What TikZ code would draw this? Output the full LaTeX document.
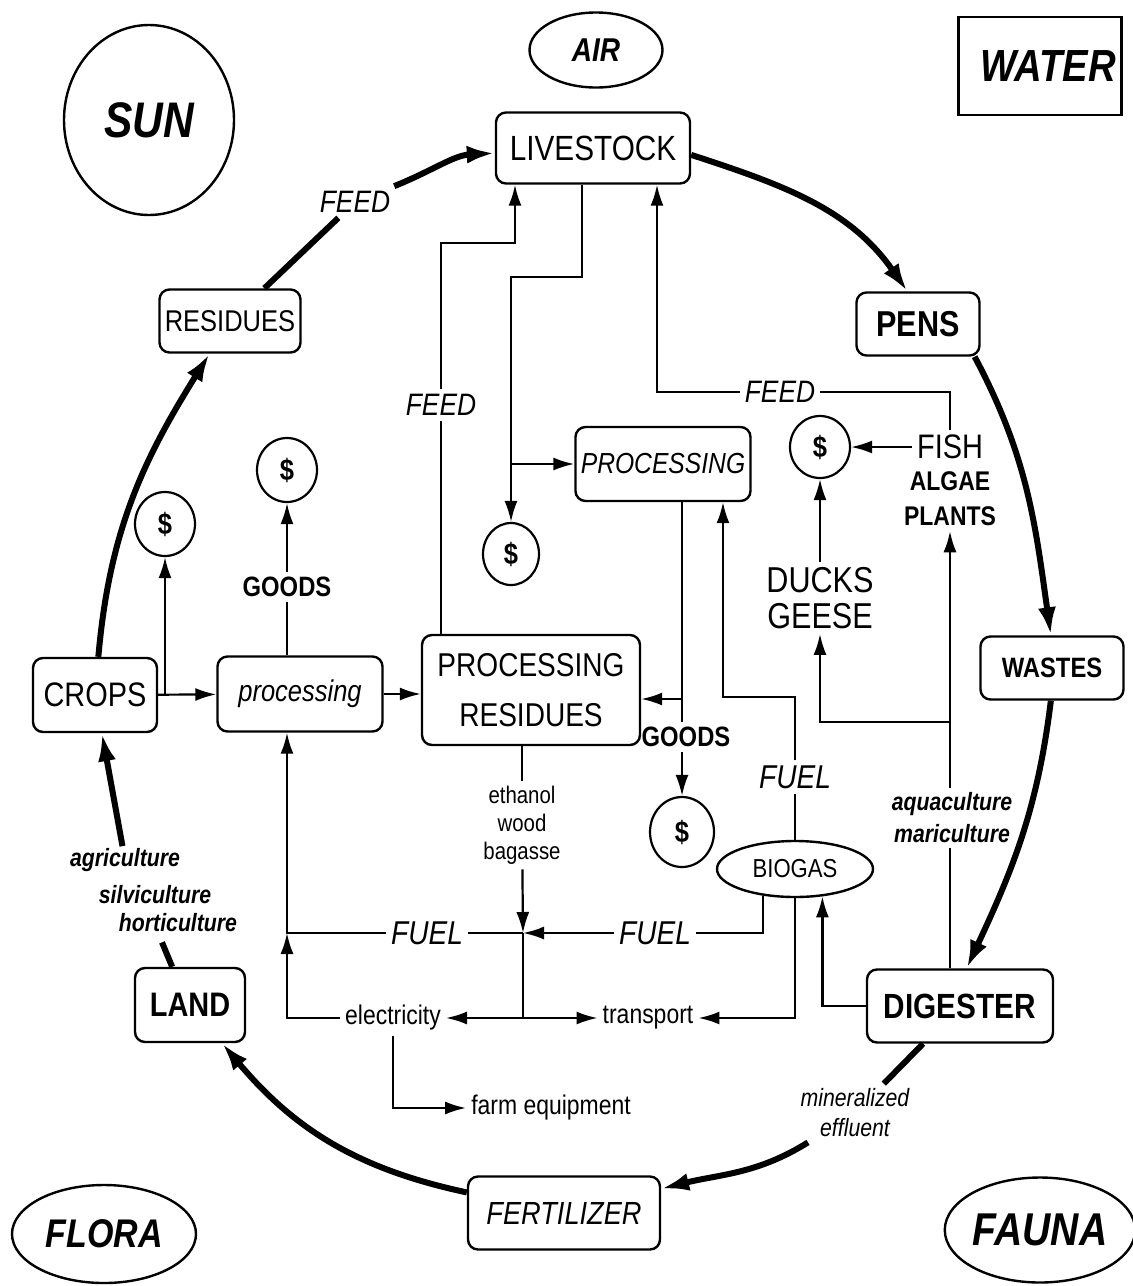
\documentclass[tikz,border=0pt]{standalone}
\usepackage{fontspec}
\setmainfont{Liberation Sans}[FakeStretch=0.85]
\usetikzlibrary{arrows.meta, positioning, shapes.geometric}
\newcommand\fsz[2]{\fontsize{#1}{#2}\selectfont}

\begin{document}
\begin{tikzpicture}[
        x=1pt, y=1pt,
        box/.style={
            draw,
            rounded corners=10pt,
            line width=2.4pt,
            inner sep=0pt,
            align=center
        },
        oval/.style={
            ellipse,
            draw,
            line width=2.4pt,
            inner sep=0pt,
            font=\bfseries\itshape
        },
        money/.style={
            ellipse,
            draw,
            line width=2.2pt,
            inner sep=0pt,
            minimum width=60pt,
            minimum height=64pt,
            font=\bfseries\fsz{30}{30}
        },
        lbl/.style={
            inner sep=5pt,
            align=center
        },
        wire/.style={
            line width=2.2pt
        },
        arrow/.style={
            -{Latex[length=21pt,width=13pt]},
            line width=2.2pt
        },
        bigwire/.style={
            line width=6pt
        },
        bigarrow/.style={
            -{Latex[length=28pt,width=18pt]},
            line width=6pt
        }
    ]
    \useasboundingbox (0,0) rectangle (1133,-1286);

    % Elements in the corners
    \node[oval, minimum width=170pt, minimum height=190pt, font=\bfseries\itshape\fsz{50}{50}] (sun) at (149,-120) {SUN};
    \node[oval, minimum width=133pt, minimum height=75pt, font=\bfseries\itshape\fsz{33}{33}] (air) at (596,-50) {AIR};
    \node[draw, line width=2.4pt, minimum width=163pt, minimum height=98pt, font=\bfseries\itshape\fsz{45}{45}] (water) at (1040,-66) {\hspace{16pt}WATER};
    \node[oval, minimum width=184pt, minimum height=98pt, font=\bfseries\itshape\fsz{40}{40}] (flora) at (104,-1234) {FLORA};
    \node[oval, minimum width=183pt, minimum height=105pt, font=\bfseries\itshape\fsz{46}{46}] (fauna) at (1040,-1230) {FAUNA};

    % Ring
    \node[box, minimum width=194pt, minimum height=71pt, font=\fsz{35}{35}] (livestock) at (593,-148) {LIVESTOCK};
    \node[box, minimum width=141pt, minimum height=63pt, font=\fsz{30}{30}] (residues) at (230,-321) {RESIDUES};
    \node[box, minimum width=123pt, minimum height=63pt, font=\bfseries\fsz{36}{36}] (pens) at (918,-324) {PENS};
    \node[box, minimum width=143pt, minimum height=63pt, font=\bfseries\fsz{28}{28}] (wastes) at (1052,-668) {WASTES};
    \node[box, minimum width=186pt, minimum height=73pt, font=\bfseries\fsz{35}{35}] (digester) at (960,-1006) {DIGESTER};
    \node[box, minimum width=192pt, minimum height=73pt, font=\itshape\fsz{32}{32}] (fertilizer) at (564,-1213) {FERTILIZER};
    \node[box, minimum width=110pt, minimum height=74pt, font=\bfseries\fsz{34}{34}] (land) at (190,-1005) {LAND};
    \node[box, minimum width=124pt, minimum height=74pt, font=\fsz{34}{34}] (crops) at (95,-695) {CROPS};

    % Inside the ring
    \node[box, minimum width=165pt, minimum height=75pt, font=\itshape\fsz{30}{30}] (proc) at (300,-694) {processing};
    \node[box, minimum width=218pt, minimum height=110pt, font=\fsz{33}{50}] (procres) at (531,-690) {PROCESSING\\RESIDUES};
    \node[box, minimum width=175pt, minimum height=74pt, font=\itshape\fsz{29}{29}] (procup) at (663,-464) {PROCESSING};
    \node[oval, minimum width=156pt, minimum height=56pt, font=\fsz{26}{26}] (biogas) at (795,-869) {BIOGAS};

    \node[money] (moneyA) at (165,-524) {\$};
    \node[money] (moneyB) at (287,-470) {\$};
    \node[money, minimum width=56pt, minimum height=62pt] (moneyC) at (511,-554) {\$};
    \node[money, minimum width=64pt, minimum height=70pt] (moneyD) at (682,-832) {\$};
    \node[money, minimum height=62pt] (moneyE) at (820,-447) {\$};

    % Labels
    \node[lbl, font=\itshape\fsz{31}{31}] (feedA) at (355,-202) {FEED};
    \node[lbl, font=\itshape\fsz{31}{31}] (feedB) at (441,-405) {FEED};
    \node[lbl, font=\itshape\fsz{31}{31}] (feedC) at (780,-392) {FEED};
    \node[lbl, font=\bfseries\fsz{28}{28}] (goodsA) at (287,-587) {GOODS};
    \node[lbl, font=\bfseries\fsz{28}{28}] (goodsB) at (686,-737) {GOODS};
    \node[lbl, font=\itshape\fsz{33}{33}] (fuelA) at (427,-933) {FUEL};
    \node[lbl, font=\itshape\fsz{33}{33}] (fuelB) at (655,-933) {FUEL};
    \node[lbl, font=\itshape\fsz{33}{33}] (fuelC) at (795,-777) {FUEL};
    \node[lbl, font=\fsz{24}{28}] (fuels) at (522,-825) {ethanol\\wood\\bagasse};
    \node[lbl, font=\fsz{27}{27}] (electricity) at (393,-1018) {electricity};
    \node[lbl, font=\fsz{27}{27}] (transport) at (648,-1018) {transport};
    \node[lbl, font=\fsz{27}{27}] (farm) at (551,-1108) {farm equipment};
    \node[lbl, font=\fsz{36}{36}] (ducks) at (820,-598) {DUCKS\\GEESE};
    \node[lbl, font=\fsz{34}{34}] (fish) at (950,-447) {FISH};
    \node[lbl, font=\bfseries\fsz{27}{35}] (plants) at (950,-499) {ALGAE\\PLANTS};
    \node[lbl, font=\bfseries\itshape\fsz{25}{32}] (aqua) at (952,-818) {aquaculture\\mariculture};
    \node[lbl, font=\itshape\fsz{25}{30}] (effl) at (855,-1113) {mineralized\\effluent};
    \node[lbl, inner sep=2pt, font=\bfseries\itshape\fsz{25}{25}] (agriA) at (125,-860) {agriculture};
    \node[lbl, inner sep=2pt, font=\bfseries\itshape\fsz{25}{25}] (agriB) at (155,-895) {silviculture};
    \node[lbl, inner sep=2pt, font=\bfseries\itshape\fsz{25}{25}] (agriC) at (178,-923) {horticulture};

    % Bends
    \coordinate (bendB) at (515,-243);
    \coordinate (bendC) at (582,-277);
    \coordinate (bendE) at (657,-392);
    \coordinate (bendF) at (723,-697);
    \coordinate (bendD) at (950,-722);
    \coordinate (junc) at (523,-933);
    \coordinate (split) at (523,-1018);
    \coordinate (fuelcorner) at (287,-933);
    \coordinate (prE) at ([yshift=-9pt]procres.east);
    \coordinate (agriend) at ([xshift=-16pt,yshift=-8pt]agriC.south);

    % The ring
    \draw[bigarrow] (crops) to[out=85,in=-122] (residues);
    \draw[bigwire] (residues) -- (feedA);
    \draw[bigarrow] (feedA) to[out=22,in=183] (livestock);
    \draw[bigarrow] (livestock.-4) to[out=-18,in=125] (pens.108);
    \draw[bigarrow] (pens.-30) to[out=-62,in=98] (wastes.92);
    \draw[bigarrow] (wastes.-92) to[out=-97,in=65] (digester.80);
    \draw[bigwire] (digester) -- (effl);
    \draw[bigarrow] (effl) to[out=-148,in=14] (fertilizer);
    \draw[bigarrow] (fertilizer) to[out=168,in=-50] (land);
    \draw[bigwire] (land.115) -- (agriend);
    \draw[bigarrow] (agriA) -- (crops);

    % Crops side
    \draw[arrow] (crops) -- (proc);
    \draw[arrow] (moneyA |- crops) -- (moneyA);
    \draw[wire] (goodsA |- proc.north) -- (goodsA);
    \draw[arrow] (goodsA) -- (moneyB);
    \draw[arrow] (proc) -- (proc -| procres.west);

    % Feed to livestock
    \draw[wire] (feedB |- procres.north) -- (feedB);
    \draw[arrow] (feedB) |- (bendB) -- (bendB |- livestock.south);
    \draw[wire] (fish.north) |- (feedC);
    \draw[arrow] (feedC) -- (bendE) -- (bendE |- livestock.south);

    % Livestock products
    \draw[arrow] (bendC |- livestock.south) -- (bendC) -| (moneyC);
    \draw[arrow] (moneyC |- procup) -- (procup);
    \draw[wire] (moneyD |- procup.south) -- (moneyD |- goodsB.north);
    \draw[arrow] (prE -| moneyD) -- (prE);
    \draw[arrow] (moneyD |- goodsB.south) -- (moneyD);

    % Aquaculture
    \draw[arrow] (fish) -- (moneyE);
    \draw[arrow] (ducks) -- (moneyE);
    \draw[arrow] (plants |- aqua.north) -- (plants);
    \draw[arrow] (bendD) -| (ducks);
    \draw[wire] (plants |- digester.north) -- (plants |- aqua.south);

    % Energy
    \draw[arrow] (digester.west) -| (biogas.-45);
    \draw[wire] (biogas) -- (fuelC);
    \draw[arrow] (fuelC) |- (bendF) -- (bendF |- procup.south);
    \draw[wire] (biogas.-140) |- (fuelB);
    \draw[arrow] (fuelB) -- (junc);
    \draw[wire] (junc) -- (fuelA);
    \draw[arrow] (fuelA) -- (fuelcorner) -- (fuelcorner |- proc.south);
    \draw[wire] (fuels |- procres.south) -- (fuels);
    \draw[arrow] (fuels) -- (junc);
    \draw[wire] (junc) -- (split);
    \draw[arrow] (split) -- (electricity);
    \draw[arrow] (split) -- (transport);
    \draw[arrow] (biogas) |- (transport);
    \draw[arrow] (electricity) -| (fuelcorner);
    \draw[arrow] (electricity) |- (farm);

\end{tikzpicture}
\end{document}
